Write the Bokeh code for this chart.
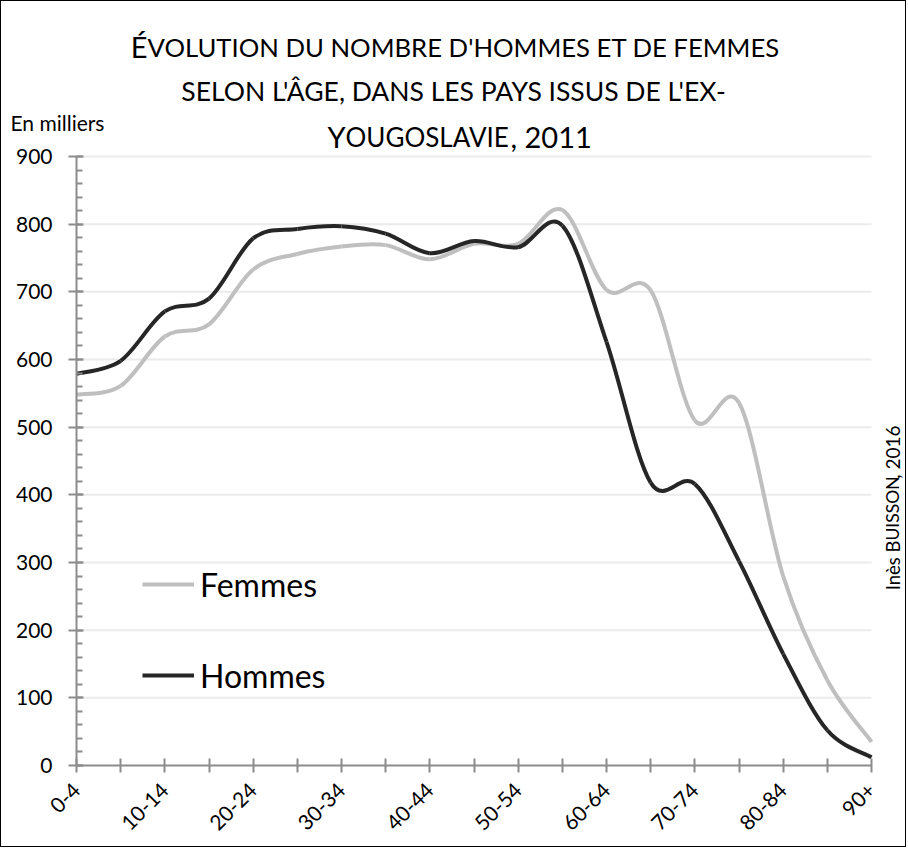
import math
from bokeh.plotting import figure
from bokeh.models import (Label, Legend, LegendItem, FixedTicker, SingleIntervalTicker,
                          ColumnDataSource, Range1d)
from bokeh.embed import file_html
from bokeh.resources import INLINE

# ---------------- data ----------------
categories = ["0-4", "5-9", "10-14", "15-19", "20-24", "25-29", "30-34", "35-39",
              "40-44", "45-49", "50-54", "55-59", "60-64", "65-69", "70-74",
              "75-79", "80-84", "85-89", "90+"]
femmes = [548, 561, 634, 652, 733, 756, 767, 769, 748, 771, 771, 821, 703, 702,
          510, 536, 280, 126, 35]
hommes = [579, 598, 671, 690, 779, 793, 797, 786, 757, 775, 766, 798, 626, 418,
          416, 302, 165, 52, 12]
y_max = 900
y_step = 100

FONT = "Lato"

# ---------------- layout (picture pixels) ----------------
W, H = 906, 847            # canvas size (plus 1px border -> 908 x 849)
OX, OY = 1, 1              # canvas origin in the picture
PL, PR, PT, PB = 76, 871, 156, 765   # plot area edges in the picture
n = len(categories)
xpx = (PR - PL) / (n - 1)
ypx = (PB - PT) / y_max
x_start = -(PL - OX) / xpx
x_end = (n - 1) + (OX + W - PR) / xpx
y_end = y_max + (PT - OY) / ypx
y_start = -(OY + H - PB) / ypx


def bezier_source(vals):
    """Smoothed (Catmull-Rom style) segments, one Bezier per pair of points."""
    m = len(vals)
    xs = list(range(m))
    d = dict(x0=[], y0=[], x1=[], y1=[], cx0=[], cy0=[], cx1=[], cy1=[])
    for i in range(m - 1):
        pm = max(i - 1, 0)
        pp = min(i + 2, m - 1)
        d["x0"].append(xs[i]); d["y0"].append(vals[i])
        d["x1"].append(xs[i + 1]); d["y1"].append(vals[i + 1])
        d["cx0"].append(xs[i] + (xs[i + 1] - xs[pm]) / 6)
        d["cy0"].append(vals[i] + (vals[i + 1] - vals[pm]) / 6)
        d["cx1"].append(xs[i + 1] - (xs[pp] - xs[i]) / 6)
        d["cy1"].append(vals[i + 1] - (vals[pp] - vals[i]) / 6)
    return ColumnDataSource(d)


p = figure(width=W, height=H, output_backend="svg", toolbar_location=None,
           x_range=Range1d(x_start, x_end), y_range=Range1d(y_start, y_end),
           min_border=0, min_border_left=0, min_border_right=0,
           min_border_top=0, min_border_bottom=0)
p.styles = {"border": "1px solid #000000"}
p.outline_line_color = None
p.background_fill_color = "white"
p.border_fill_color = "white"
p.xgrid.visible = False
p.ygrid.visible = False

# gridlines (one per y tick)
grid_vals = list(range(y_step, y_max + 1, y_step))
p.segment(x0=[0] * len(grid_vals), x1=[n - 1] * len(grid_vals), y0=grid_vals, y1=grid_vals,
          line_color="#ebebeb", line_width=2)

# y axis
yax = p.yaxis[0]
yax.fixed_location = 0
yax.bounds = (0, y_max)
yax.ticker = SingleIntervalTicker(interval=y_step, num_minor_ticks=5)
yax.axis_line_color = "#8c8c8c"
yax.axis_line_width = 2
yax.major_tick_line_color = "#8c8c8c"
yax.major_tick_line_width = 2
yax.major_tick_in = 7
yax.major_tick_out = 8
yax.minor_tick_line_color = "#8c8c8c"
yax.minor_tick_line_width = 2
yax.minor_tick_in = 6
yax.minor_tick_out = 0
yax.major_label_text_font = FONT
yax.major_label_text_font_size = "21px"
yax.major_label_text_color = "#000000"
yax.major_label_standoff = 16

# x axis
xax = p.xaxis[0]
xax.fixed_location = 0
xax.bounds = (0, n - 1)
xax.ticker = FixedTicker(ticks=list(range(n)), minor_ticks=[])
xax.major_label_overrides = {i: (c if i % 2 == 0 else "") for i, c in enumerate(categories)}
xax.major_label_orientation = math.pi / 4
xax.axis_line_color = "#8c8c8c"
xax.axis_line_width = 2
xax.major_tick_line_color = "#8c8c8c"
xax.major_tick_line_width = 2
xax.major_tick_in = 7
xax.major_tick_out = 7
xax.minor_tick_line_color = None
xax.major_label_text_font = FONT
xax.major_label_text_font_size = "21px"
xax.major_label_text_color = "#000000"
xax.major_label_standoff = 14

# series
rf = p.bezier(x0="x0", y0="y0", x1="x1", y1="y1", cx0="cx0", cy0="cy0", cx1="cx1", cy1="cy1",
              source=bezier_source(femmes), line_color="#bfbfbf", line_width=4)
rh = p.bezier(x0="x0", y0="y0", x1="x1", y1="y1", cx0="cx0", cy0="cy0", cx1="cx1", cy1="cy1",
              source=bezier_source(hommes), line_color="#262626", line_width=4)

FL, FB = OX, OY + H   # frame left / bottom in picture pixels

legend = Legend(items=[LegendItem(label="Femmes", renderers=[rf]),
                       LegendItem(label="Hommes", renderers=[rh])],
                location=(142 - FL, FB - 695), orientation="vertical",
                label_text_font=FONT, label_text_font_size="32px", label_text_color="#000000",
                glyph_width=52, glyph_height=40, label_height=40, label_standoff=6,
                spacing=51, padding=0, margin=0,
                border_line_color=None, background_fill_alpha=0)
p.add_layout(legend, "center")

SHIFT = 10   # correction between wanted baseline and rendered baseline


def lab(text, X, Y, size, align="left", baseline="alphabetic", angle=0.0):
    yy = Y - SHIFT if baseline == "alphabetic" else Y
    p.add_layout(Label(x=X - FL, y=FB - yy, x_units="screen", y_units="screen", text=text,
                       text_font=FONT, text_font_size=size, text_color="#000000",
                       text_align=align, text_baseline=baseline, angle=angle))


BIG = "29px"
# title line 1 (small caps imitation)
lab("É", 147, 56, BIG, "right")
lab("VOLUTION DU NOMBRE D'HOMMES ET DE FEMMES", 147, 56, "25.7px", "left")
# title line 2
lab("SELON L'ÂGE, DANS LES PAYS ISSUS DE L'EX-", 453, 100, "26.5px", "center")
# title line 3
lab("Y", 345, 146, BIG, "right")
lab("OUGOSLAVIE", 345, 146, "26px", "left")
lab(", 2011", 510, 146, BIG, "left")

# y axis unit
lab("En milliers", 10, 132, "21px", "left")

# credit (vertical)
lab("Inès B", 892, 540, "18.5px", "right", "middle", math.pi / 2)
lab("UISSON", 892, 540, "17.5px", "left", "middle", math.pi / 2)
lab(", 2016", 892, 425, "19px", "right", "middle", math.pi / 2)

open("out.html", "w").write(file_html(p, INLINE))
